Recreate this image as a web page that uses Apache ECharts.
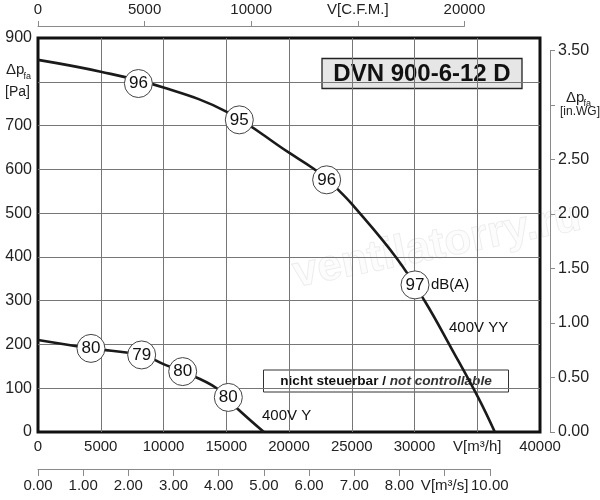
<!DOCTYPE html>
<html>
<head>
<meta charset="utf-8">
<script src="https://cdn.jsdelivr.net/npm/echarts@6/dist/echarts.min.js"></script>
<style>html,body{margin:0;padding:0;background:#fff}#c{width:600px;height:500px}</style>
</head>
<body>
<div id="c"></div>
<script>
// ---- data ----
const curveYYFlow  = [0, 5000, 10000, 15000, 20000, 21940, 23000, 23930, 25000, 28580, 30840, 32960, 35090, 36400];
const curveYYPress = [850, 823, 787, 732, 638, 602, 577, 553, 521, 397, 298, 190, 78, 0];
const curveYFlow   = [0, 4220, 8260, 10000, 11530, 14240, 15833, 18000];
const curveYPress  = [210, 191, 176, 155, 138, 100, 55, 0];
const markYYFlow   = [8000, 16040, 23000, 30040];
const markYYPress  = [796, 713, 576, 336];
const markYYdB     = ['96', '95', '96', '97'];
const markYFlow    = [4220, 8260, 11530, 15165];
const markYPress   = [191, 176, 138, 79];
const markYdB      = ['80', '79', '80', '80'];
const titleText    = 'DVN 900-6-12 D';
const noteBold     = 'nicht steuerbar / ';
const noteItalic   = 'not controllable';
const m3hMax = 40000, paMax = 900, cfmMax = 20000, m3sMax = 10, inwgMax = 3.5;
const m3hPerCfm = 1.69901, paPerInwg = 249.089;

// ---- layout ----
const FONT = 'Liberation Sans, Arial, sans-serif';
const L = 38, T = 38, W = 502, H = 394;
const cfmW = W * (cfmMax * m3hPerCfm / m3hMax);
const m3sW = W * (m3sMax * 3600 / m3hMax);
const inwgH = H * (inwgMax * paPerInwg / paMax);

const pair = (xs, ys) => xs.map((x, i) => [x, ys[i]]);
const triple = (xs, ys, ls) => xs.map((x, i) => [x, ys[i], ls[i]]);

const chart = echarts.init(document.getElementById('c'), null, {renderer: 'canvas'});
const gridLine = {show: true, showMinLine: false, showMaxLine: false, lineStyle: {color: '#767676', width: 1}};
const markerSeries = (data) => ({
  type: 'scatter', xAxisIndex: 0, yAxisIndex: 0, z: 5,
  data: data, symbol: 'circle', symbolSize: 28,
  itemStyle: {color: '#fff', borderColor: '#444', borderWidth: 1, opacity: 1},
  label: {show: true, position: 'inside', formatter: p => p.value[2], fontFamily: FONT, fontSize: 17, color: '#111'},
  emphasis: {disabled: true}, silent: true
});
const txt = (text, x, y, size, extra) => Object.assign({type: 'text', z: 10, silent: true,
  style: Object.assign({text: text, x: x, y: y, verticalAlign: 'middle', font: size + 'px ' + FONT, fill: '#222'}, extra || {})});

chart.setOption({
  animation: false,
  textStyle: {fontFamily: FONT},
  grid: [
    {left: L, top: T, width: W, height: H, show: true, borderColor: '#111', borderWidth: 3, backgroundColor: 'transparent'},
    {left: L, top: 25, width: cfmW, height: 1},
    {left: L, top: 468, width: m3sW, height: 1},
    {left: 550, top: T + H - inwgH, width: 1, height: inwgH}
  ],
  xAxis: [
    {gridIndex: 0, type: 'value', min: 0, max: m3hMax, interval: 5000, position: 'bottom',
     axisLine: {show: false}, axisTick: {show: false}, splitLine: gridLine,
     axisLabel: {margin: 7, fontSize: 15, color: '#222', fontFamily: FONT, showMinLabel: true, showMaxLabel: true,
       formatter: v => v === 35000 ? 'V[m³/h]' : String(v)}},
    {gridIndex: 1, type: 'value', min: 0, max: cfmMax, interval: 5000, position: 'top',
     axisLine: {show: true, lineStyle: {color: '#8a8a8a', width: 1}},
     axisTick: {show: true, length: 5, lineStyle: {color: '#8a8a8a', width: 1}},
     splitLine: {show: false},
     axisLabel: {margin: 8, fontSize: 15, color: '#222', fontFamily: FONT, showMinLabel: true, showMaxLabel: true,
       formatter: v => v === 15000 ? 'V[C.F.M.]' : String(v)}},
    {gridIndex: 2, type: 'value', min: 0, max: m3sMax, interval: 1, position: 'bottom',
     axisLine: {show: true, lineStyle: {color: '#8a8a8a', width: 1}},
     axisTick: {show: true, length: 7, lineStyle: {color: '#8a8a8a', width: 1}},
     splitLine: {show: false},
     axisLabel: {margin: 9, fontSize: 15, color: '#222', fontFamily: FONT, showMinLabel: true, showMaxLabel: true,
       formatter: v => v === 9 ? 'V[m³/s]' : v.toFixed(2)}},
    {gridIndex: 3, type: 'value', show: false, min: 0, max: 1}
  ],
  yAxis: [
    {gridIndex: 0, type: 'value', min: 0, max: paMax, interval: 100, position: 'left',
     axisLine: {show: false}, axisTick: {show: false}, splitLine: gridLine,
     axisLabel: {margin: 6, fontSize: 16, color: '#222', fontFamily: FONT, showMinLabel: true, showMaxLabel: true,
       formatter: v => v === 800 ? '' : String(v)}},
    {gridIndex: 1, type: 'value', show: false, min: 0, max: 1},
    {gridIndex: 2, type: 'value', show: false, min: 0, max: 1},
    {gridIndex: 3, type: 'value', min: 0, max: inwgMax, interval: 0.5, position: 'right',
     axisLine: {show: true, lineStyle: {color: '#8a8a8a', width: 1}},
     axisTick: {show: true, length: 5, lineStyle: {color: '#8a8a8a', width: 1}},
     splitLine: {show: false},
     axisLabel: {margin: 7, fontSize: 16, color: '#222', fontFamily: FONT, showMinLabel: true, showMaxLabel: true,
       formatter: v => v === 3 ? '' : v.toFixed(2)}}
  ],
  series: [
    {type: 'line', name: '400V YY', xAxisIndex: 0, yAxisIndex: 0, data: pair(curveYYFlow, curveYYPress),
     smooth: 0.4, showSymbol: false, lineStyle: {color: '#1a1a1a', width: 2.6}, z: 3, silent: true},
    {type: 'line', name: '400V Y', xAxisIndex: 0, yAxisIndex: 0, data: pair(curveYFlow, curveYPress),
     smooth: 0.4, showSymbol: false, lineStyle: {color: '#1a1a1a', width: 2.6}, z: 3, silent: true},
    markerSeries(triple(markYYFlow, markYYPress, markYYdB)),
    markerSeries(triple(markYFlow, markYPress, markYdB))
  ],
  graphic: [
    {type: 'text', z: 0, silent: true, x: 437, y: 246, rotation: 0.2,
     style: {text: 'ventilatorry.ru', x: 0, y: 0, align: 'center', verticalAlign: 'middle',
       font: 'bold 44px ' + FONT, fill: 'rgba(0,0,0,0.012)', stroke: 'rgba(0,0,0,0.08)', lineWidth: 1}},
    {type: 'group', z: 10, children: [
      {type: 'rect', shape: {x: 322, y: 58.5, width: 200, height: 30}, style: {fill: '#e6e6e6', stroke: '#222', lineWidth: 1.3}},
      {type: 'text', style: {text: titleText, x: 422, y: 74, align: 'center', verticalAlign: 'middle',
        font: 'bold 24px ' + FONT, fill: '#111'}}
    ]},
    {type: 'group', z: 10, children: [
      {type: 'rect', shape: {x: 263.5, y: 370, width: 245, height: 22}, style: {fill: '#fff', stroke: '#333', lineWidth: 1}},
      {type: 'text', style: {x: 386, y: 381.5, align: 'center', verticalAlign: 'middle',
        text: '{b|' + noteBold + '}{i|' + noteItalic + '}',
        rich: {b: {fontFamily: FONT, fontSize: 13.6, fontWeight: 'bold', fill: '#111'},
               i: {fontFamily: FONT, fontSize: 13.6, fontWeight: 'bold', fontStyle: 'italic', fill: '#333'}}}}
    ]},
    txt('400V YY', 449, 328, 15, {fill: '#111'}),
    txt('400V Y', 262, 416, 15, {fill: '#111'}),
    txt('dB(A)', 431, 285, 15, {fill: '#111'}),
    // left axis name
    txt('Δp', 6, 70, 15),
    txt('fa', 23.5, 77, 9),
    txt('[Pa]', 5, 92, 14),
    // right axis name
    txt('Δp', 566, 98, 15),
    txt('fa', 583.5, 104, 9),
    txt('[in.WG]', 580, 112, 12, {align: 'center'})
  ]
});
</script>
</body>
</html>
